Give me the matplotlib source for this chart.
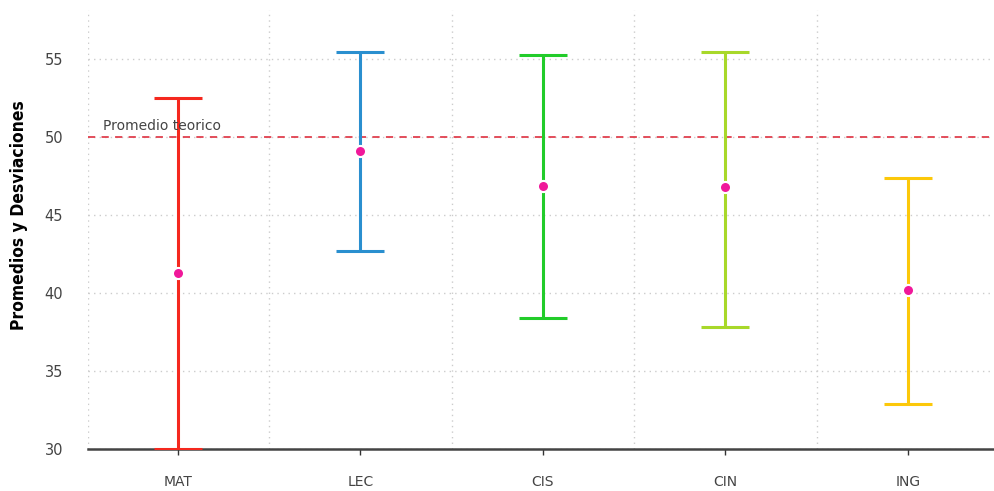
import matplotlib.pyplot as plt
from matplotlib import font_manager

categorias = ["MAT", "LEC", "CIS", "CIN", "ING"]
promedios = [41.3, 49.1, 46.9, 46.8, 40.2]
limite_sup = [52.5, 55.5, 55.3, 55.5, 47.4]
limite_inf = [30.0, 42.7, 38.4, 37.8, 32.9]
colores = ["#f5281e", "#2a8fcf", "#22cc2a", "#a8d82a", "#fcc80a"]
promedio_teorico = 50

# fuente angosta para la etiqueta del eje y, si hay
condensed = [f for f in font_manager.fontManager.ttflist
             if "Narrow" in f.name or "Condensed" in f.name or f.stretch in ("condensed", 75)]
narrow = condensed[0].name if condensed else "DejaVu Sans"

fig = plt.figure(figsize=(9.95, 4.91), dpi=100)
ax = fig.add_axes([0.0884, 0.0855, 0.9116, 0.895])

x = list(range(len(categorias)))
for i in x:
    ax.errorbar(i, promedios[i],
                yerr=[[promedios[i] - limite_inf[i]], [limite_sup[i] - promedios[i]]],
                fmt="none", ecolor=colores[i], elinewidth=2.2, capsize=17,
                capthick=2.2, zorder=3)
ax.plot(x, promedios, "o", color="#f0189a", markersize=8,
        markeredgecolor="white", markeredgewidth=1.5, zorder=4, linestyle="none")

ax.axhline(promedio_teorico, color="#e0404e", linestyle=(0, (4, 3.5)), linewidth=1.3, zorder=2)
ax.text(-0.41, promedio_teorico + 0.25, "Promedio teorico", fontsize=10,
        color="#444444", ha="left", va="bottom")

ax.set_xlim(-0.493, 4.477)
ax.set_ylim(30, 58.2)
ax.set_xticks(x)
ax.set_xticklabels(categorias, fontsize=10, color="#444444")
ax.set_yticks([30, 35, 40, 45, 50, 55])
ax.tick_params(axis="y", length=0, labelsize=10.5, labelcolor="#444444", pad=18)
ax.tick_params(axis="x", length=4, width=1, color="#333333", pad=15)
ax.set_xticks([-0.493, 0.5, 1.5, 2.5, 3.5], minor=True)
ax.tick_params(axis="x", which="minor", length=0)

ax.grid(True, axis="y", which="major", linestyle=(0, (1, 3)), color="#cccccc", linewidth=1)
ax.grid(True, axis="x", which="minor", linestyle=(0, (1, 3)), color="#cccccc", linewidth=1)
ax.set_axisbelow(True)

for s in ["top", "right", "left"]:
    ax.spines[s].set_visible(False)
ax.spines["bottom"].set_color("#444444")
ax.spines["bottom"].set_linewidth(1.8)

ax.set_ylabel("Promedios y Desviaciones", fontsize=12.5, fontweight="bold",
              family=narrow, fontstretch="condensed")
ax.yaxis.set_label_coords(-0.066, 0.533)

fig.savefig("out.png", dpi=100)
